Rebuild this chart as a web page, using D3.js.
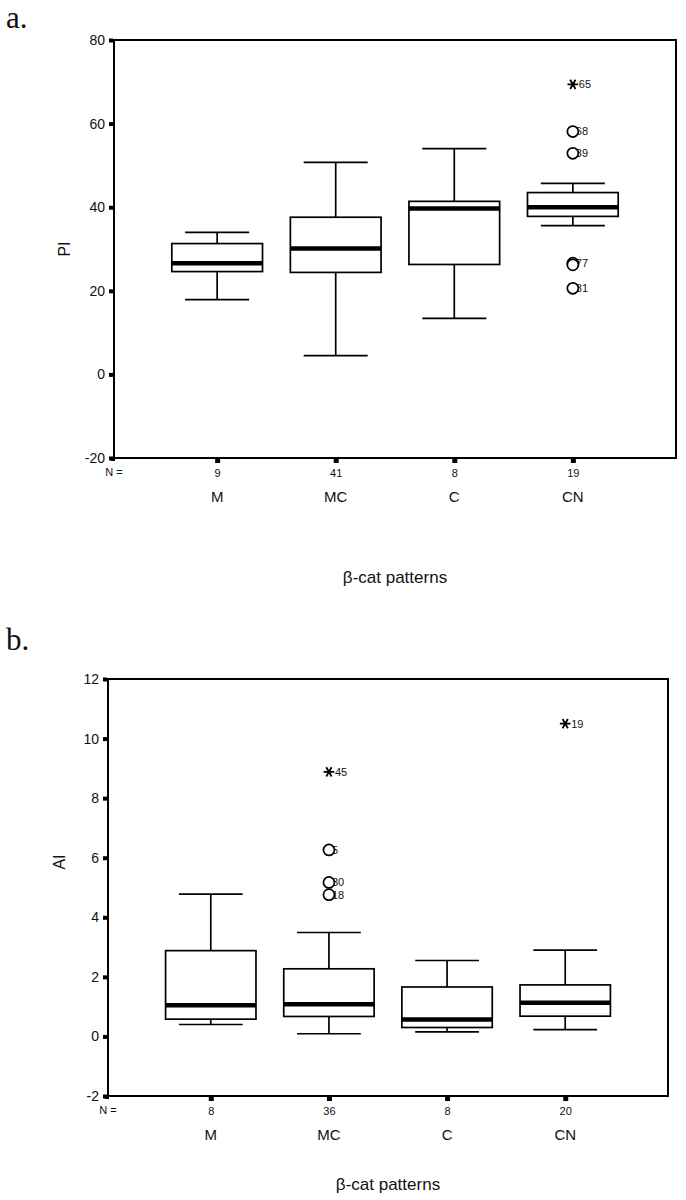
<!DOCTYPE html>
<html>
<head>
<meta charset="utf-8">
<script src="https://cdn.jsdelivr.net/npm/d3@7"></script>
<style>
  html, body { margin: 0; padding: 0; background: #fff; }
  svg { display: block; }
  text { font-family: "Liberation Sans", Arial, sans-serif; fill: #111; }
</style>
</head>
<body>
<script>
// ---------- data ----------
const categories = ["M", "MC", "C", "CN"];

// panel a : PI
const piN      = [9, 41, 8, 19];
const piLow    = [17.9, 4.5, 13.4, 35.6];
const piQ1     = [24.6, 24.4, 26.3, 37.8];
const piMedian = [26.6, 30.1, 39.7, 40.0];
const piQ3     = [31.3, 37.6, 41.4, 43.5];
const piHigh   = [34.0, 50.7, 54.0, 45.7];
const piOutCat   = ["CN", "CN", "CN", "CN", "CN", "CN"];
const piOutValue = [69.4, 58.1, 52.9, 26.6, 26.2, 20.6];
const piOutLabel = ["65", "68", "39", "77", "", "31"];
const piOutKind  = ["extreme", "out", "out", "out", "out", "out"];
const piTicks = [-20, 0, 20, 40, 60, 80];

// panel b : AI
const aiN      = [8, 36, 8, 20];
const aiLow    = [0.40, 0.09, 0.15, 0.23];
const aiQ1     = [0.58, 0.67, 0.30, 0.68];
const aiMedian = [1.05, 1.08, 0.57, 1.13];
const aiQ3     = [2.88, 2.27, 1.66, 1.73];
const aiHigh   = [4.78, 3.49, 2.55, 2.90];
const aiOutCat   = ["MC", "MC", "MC", "MC", "CN"];
const aiOutValue = [8.88, 6.26, 5.17, 4.76, 10.5];
const aiOutLabel = ["45", "5", "30", "18", "19"];
const aiOutKind  = ["extreme", "out", "out", "out", "extreme"];
const aiTicks = [-2, 0, 2, 4, 6, 8, 10, 12];

// ---------- drawing ----------
const W = 686, H = 1200;
const svg = d3.select("body").append("svg").attr("width", W).attr("height", H);

function drawPanel(p) {
  const g = svg.append("g");
  const x = d3.scalePoint().domain(categories).range([p.left, p.right]).padding(0.87);
  const y = d3.scaleLinear().domain(p.domain).range([p.bottom, p.top]);
  const step = x.step();
  const boxW = step * 0.765;
  const capW = step * 0.54;

  // panel letter
  g.append("text").attr("x", 6).attr("y", p.letterY)
    .style("font-family", "'Liberation Serif', 'Times New Roman', serif")
    .style("font-size", "31px").text(p.letter);

  // y axis ticks + labels
  const yAxis = d3.axisLeft(y).tickValues(p.ticks).tickSizeInner(4).tickSizeOuter(0).tickPadding(4)
    .tickFormat(d => String(d));
  const ya = g.append("g").attr("transform", `translate(${p.left - 1},0)`).call(yAxis);
  ya.select(".domain").remove();
  ya.selectAll(".tick line").attr("stroke", "#000").attr("stroke-width", 4);
  ya.selectAll(".tick text").style("font-size", "14px").style("font-family", "'Liberation Sans', Arial, sans-serif").attr("fill", "#111");

  // x axis ticks + N labels
  const xAxis = d3.axisBottom(x).tickSizeInner(4).tickSizeOuter(0).tickPadding(6)
    .tickFormat((d, i) => p.n[i]);
  const xa = g.append("g").attr("transform", `translate(0,${p.bottom + 1})`).call(xAxis);
  xa.select(".domain").remove();
  xa.selectAll(".tick line").attr("stroke", "#000").attr("stroke-width", 5);
  xa.selectAll(".tick text").style("font-size", "11px").style("font-family", "'Liberation Sans', Arial, sans-serif").attr("fill", "#111");

  g.append("text").attr("x", p.left).attr("y", p.bottom + 18).attr("text-anchor", "middle")
    .style("font-size", "11px").text("N =");
  // corner tick
  g.append("rect").attr("x", p.left - 3).attr("y", p.bottom - 1).attr("width", 4).attr("height", 4).attr("fill", "#000");

  // category labels
  g.selectAll(".cat").data(categories).enter().append("text")
    .attr("x", d => x(d)).attr("y", p.bottom + 44).attr("text-anchor", "middle")
    .style("font-size", "15px").text(d => d);

  // axis titles
  g.append("text").attr("x", (p.left + p.right) / 2).attr("y", p.xTitleY).attr("text-anchor", "middle")
    .style("font-size", "17px").text("β-cat patterns");
  g.append("text").attr("transform", `translate(${p.yTitleX},${p.yTitleY}) rotate(-90)`)
    .attr("text-anchor", "middle").style("font-size", "16px").text(p.yTitle);

  // frame
  g.append("rect").attr("x", p.left).attr("y", p.top).attr("width", p.right - p.left)
    .attr("height", p.bottom - p.top).attr("fill", "none").attr("stroke", "#000").attr("stroke-width", 2);

  // boxes
  const rows = categories.map((c, i) => ({ c, lo: p.low[i], q1: p.q1[i], med: p.med[i], q3: p.q3[i], hi: p.high[i] }));
  const bg = g.selectAll(".box").data(rows).enter().append("g");
  const sw = 1.7;
  bg.append("line").attr("x1", d => x(d.c)).attr("x2", d => x(d.c))
    .attr("y1", d => y(d.hi)).attr("y2", d => y(d.q3)).attr("stroke", "#000").attr("stroke-width", sw);
  bg.append("line").attr("x1", d => x(d.c)).attr("x2", d => x(d.c))
    .attr("y1", d => y(d.q1)).attr("y2", d => y(d.lo)).attr("stroke", "#000").attr("stroke-width", sw);
  bg.append("line").attr("x1", d => x(d.c) - capW / 2).attr("x2", d => x(d.c) + capW / 2)
    .attr("y1", d => y(d.hi)).attr("y2", d => y(d.hi)).attr("stroke", "#000").attr("stroke-width", sw);
  bg.append("line").attr("x1", d => x(d.c) - capW / 2).attr("x2", d => x(d.c) + capW / 2)
    .attr("y1", d => y(d.lo)).attr("y2", d => y(d.lo)).attr("stroke", "#000").attr("stroke-width", sw);
  bg.append("rect").attr("x", d => x(d.c) - boxW / 2).attr("width", boxW)
    .attr("y", d => y(d.q3)).attr("height", d => y(d.q1) - y(d.q3))
    .attr("fill", "#fff").attr("stroke", "#000").attr("stroke-width", sw);
  bg.append("line").attr("x1", d => x(d.c) - boxW / 2).attr("x2", d => x(d.c) + boxW / 2)
    .attr("y1", d => y(d.med)).attr("y2", d => y(d.med)).attr("stroke", "#000").attr("stroke-width", 4.5);

  // outliers
  const outs = p.outCat.map((c, i) => ({ c, v: p.outValue[i], label: p.outLabel[i], kind: p.outKind[i] }));
  const og = g.selectAll(".out").data(outs).enter().append("g")
    .attr("transform", d => `translate(${x(d.c)},${y(d.v)})`);
  og.append("text").attr("x", d => d.kind === "extreme" ? 6 : 3).attr("dy", "0.35em")
    .style("font-size", "11px").text(d => d.label);
  og.filter(d => d.kind === "out").append("circle").attr("r", 5.5)
    .attr("fill", "#fff").attr("stroke", "#000").attr("stroke-width", 1.7);
  og.filter(d => d.kind === "extreme").append("path")
    .attr("d", d3.symbol().type(d3.symbolAsterisk).size(80)())
    .attr("transform", "rotate(90)")
    .attr("fill", "none").attr("stroke", "#000").attr("stroke-width", 1.8);
}

drawPanel({
  letter: "a.", letterY: 28,
  left: 114, right: 676, top: 40, bottom: 458,
  domain: [-20, 80], ticks: piTicks,
  n: piN, low: piLow, q1: piQ1, med: piMedian, q3: piQ3, high: piHigh,
  outCat: piOutCat, outValue: piOutValue, outLabel: piOutLabel, outKind: piOutKind,
  yTitle: "PI", yTitleX: 70, yTitleY: 249, xTitleY: 583
});

drawPanel({
  letter: "b.", letterY: 650,
  left: 108, right: 668, top: 679, bottom: 1096,
  domain: [-2, 12], ticks: aiTicks,
  n: aiN, low: aiLow, q1: aiQ1, med: aiMedian, q3: aiQ3, high: aiHigh,
  outCat: aiOutCat, outValue: aiOutValue, outLabel: aiOutLabel, outKind: aiOutKind,
  yTitle: "AI", yTitleX: 65, yTitleY: 862, xTitleY: 1190
});
</script>
</body>
</html>
